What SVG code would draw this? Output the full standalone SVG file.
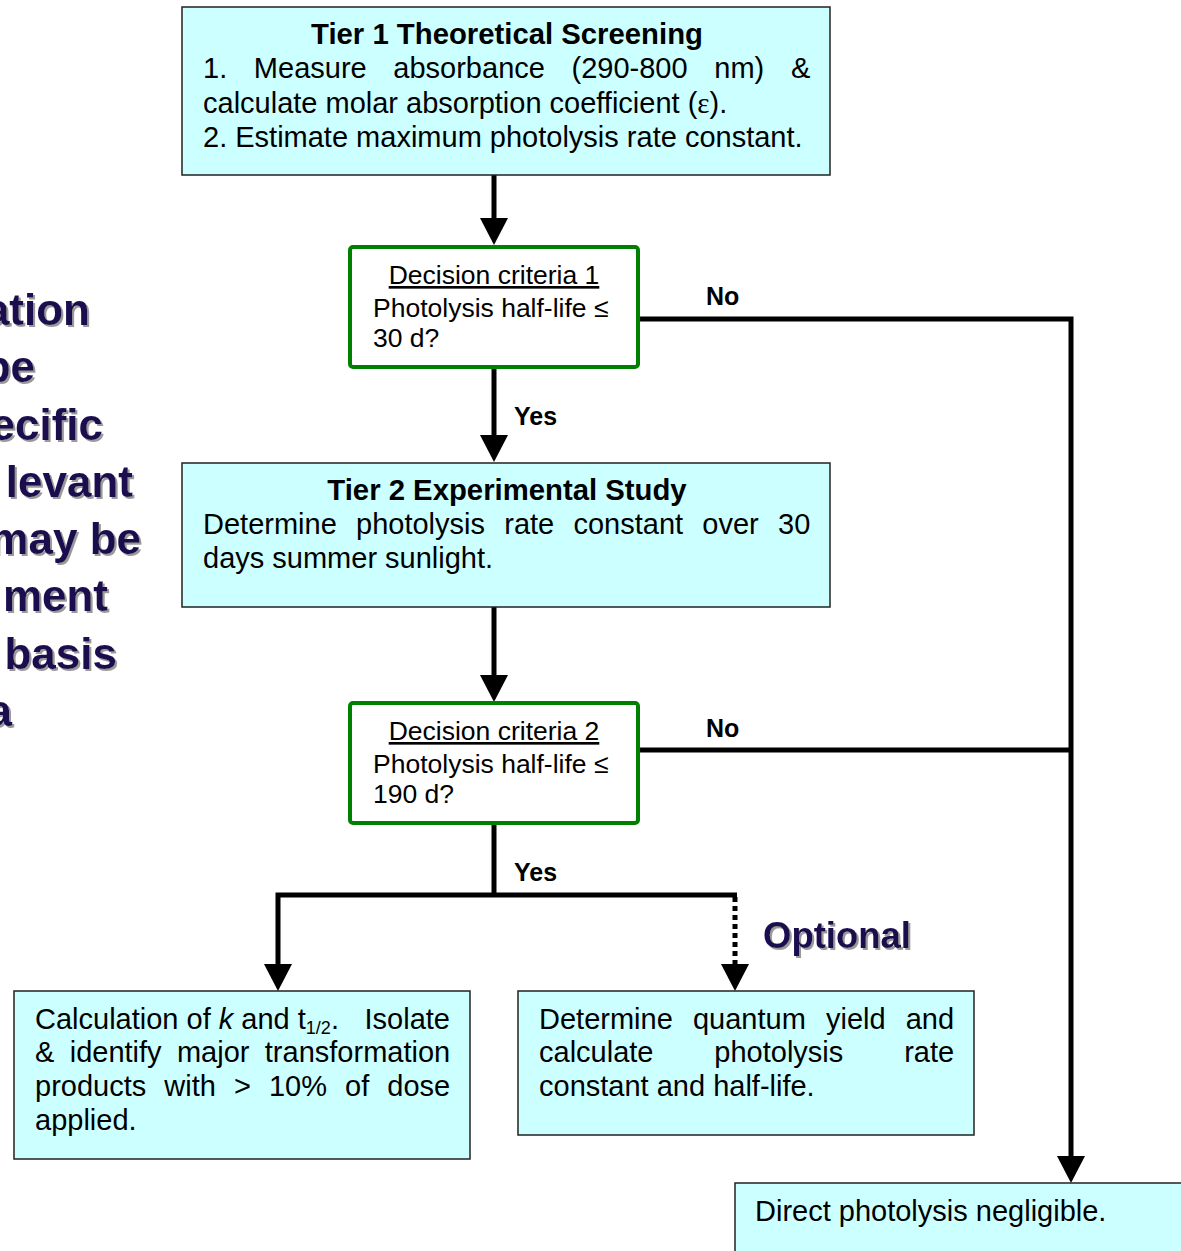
<svg xmlns="http://www.w3.org/2000/svg" width="1181" height="1251" viewBox="0 0 1181 1251">
<style>
.box{fill:#ccffff;stroke:#222;stroke-width:1.5}
.dec{fill:#fff;stroke:#008000;stroke-width:4}
.t{font-family:"Liberation Sans",Arial,sans-serif;font-size:29px;fill:#000}
.tb{font-family:"Liberation Sans",Arial,sans-serif;font-size:29.3px;font-weight:bold;fill:#000}
.d{font-family:"Liberation Sans",Arial,sans-serif;font-size:26.5px;fill:#000}
.lbl{font-family:"Liberation Sans",Arial,sans-serif;font-size:25px;font-weight:bold;fill:#000}
.big{font-family:"Liberation Sans",Arial,sans-serif;font-size:44px;font-weight:bold;fill:#1a0f50;filter:url(#sh)}
.opt{font-family:"Liberation Sans",Arial,sans-serif;font-size:36.5px;font-weight:bold;fill:#1a0f50;filter:url(#sh)}
.c{fill:none;stroke:#000;stroke-width:5;stroke-linejoin:miter}
</style>
<defs>
<marker id="ah" markerUnits="userSpaceOnUse" markerWidth="28" markerHeight="28" viewBox="0 0 27 28" refX="0" refY="14" orient="auto">
<path d="M0,0 L27,14 L0,28 z" fill="#000"/>
</marker>
<filter id="sh" x="-10%" y="-10%" width="130%" height="140%">
<feDropShadow dx="2" dy="2" stdDeviation="0.6" flood-color="#9a9a9a" flood-opacity="1"/>
</filter>
</defs>

<g id="sidetext">
<text class="big" text-anchor="end" x="90" y="325">ation</text>
<text class="big" text-anchor="end" x="35" y="382">be</text>
<text class="big" text-anchor="end" x="103" y="440">ecific</text>
<text class="big" text-anchor="end" x="133" y="497">levant</text>
<text class="big" text-anchor="end" x="141" y="554">may be</text>
<text class="big" text-anchor="end" x="108" y="611">ment</text>
<text class="big" text-anchor="end" x="117" y="669">basis</text>
<text class="big" text-anchor="end" x="12" y="726">a</text>
</g>

<g id="connectors">
<path class="c" d="M494,175 V218" marker-end="url(#ah)"/>
<path class="c" d="M494,368 V435" marker-end="url(#ah)"/>
<path class="c" d="M494,607 V675" marker-end="url(#ah)"/>
<path class="c" d="M639,319 H1071 V1156" marker-end="url(#ah)"/>
<path class="c" d="M639,750 H1071"/>
<path class="c" d="M494,824 V895"/>
<path class="c" d="M737,895 H278 V964" marker-end="url(#ah)"/>
<path class="c" d="M735,897 V964" stroke-dasharray="5,4" marker-end="url(#ah)"/>
<text class="lbl" x="706" y="305">No</text>
<text class="lbl" x="706" y="737">No</text>
<text class="lbl" x="514" y="425">Yes</text>
<text class="lbl" x="514" y="881">Yes</text>
<text class="opt" x="763" y="948">Optional</text>
</g>

<g id="tier1">
<rect class="box" x="182" y="7" width="648" height="168"/>
<text class="tb" x="507" y="44" text-anchor="middle">Tier 1 Theoretical Screening</text>
<text class="t" x="203" y="78" word-spacing="18.6">1. Measure absorbance (290-800 nm) &amp;</text>
<text class="t" x="203" y="113">calculate molar absorption coefficient (<tspan font-family="'Liberation Serif',serif">ε</tspan>).</text>
<text class="t" x="203" y="147">2. Estimate maximum photolysis rate constant.</text>
</g>

<g id="decision1">
<rect class="dec" x="350" y="247" width="288" height="120" rx="3"/>
<text class="d" x="494" y="284" text-anchor="middle" text-decoration="underline">Decision criteria 1</text>
<text class="d" x="373" y="317">Photolysis half-life ≤</text>
<text class="d" x="373" y="347">30 d?</text>
</g>

<g id="tier2">
<rect class="box" x="182" y="463" width="648" height="144"/>
<text class="tb" x="507" y="500" text-anchor="middle">Tier 2 Experimental Study</text>
<text class="t" x="203" y="534" word-spacing="11.2">Determine photolysis rate constant over 30</text>
<text class="t" x="203" y="568">days summer sunlight.</text>
</g>

<g id="decision2">
<rect class="dec" x="350" y="703" width="288" height="120" rx="3"/>
<text class="d" x="494" y="740" text-anchor="middle" text-decoration="underline">Decision criteria 2</text>
<text class="d" x="373" y="773">Photolysis half-life ≤</text>
<text class="d" x="373" y="803">190 d?</text>
</g>

<g id="calc">
<rect class="box" x="14" y="991" width="456" height="168"/>
<text class="t" x="35" y="1029">Calculation of <tspan font-style="italic">k</tspan> and t<tspan font-size="18" dy="5">1/2</tspan><tspan dy="-5">.</tspan><tspan x="450" text-anchor="end">Isolate</tspan></text>
<text class="t" x="35" y="1062" word-spacing="7.3">&amp; identify major transformation</text>
<text class="t" x="35" y="1096" word-spacing="10">products with &gt; 10% of dose</text>
<text class="t" x="35" y="1130">applied.</text>
</g>

<g id="quantum">
<rect class="box" x="518" y="991" width="456" height="144"/>
<text class="t" x="539" y="1029" word-spacing="12.1">Determine quantum yield and</text>
<text class="t" x="539" y="1062" word-spacing="52.8">calculate photolysis rate</text>
<text class="t" x="539" y="1096">constant and half-life.</text>
</g>

<g id="negligible">
<rect class="box" x="735" y="1183" width="460" height="80"/>
<text class="t" x="755" y="1221">Direct photolysis negligible.</text>
</g>
</svg>
